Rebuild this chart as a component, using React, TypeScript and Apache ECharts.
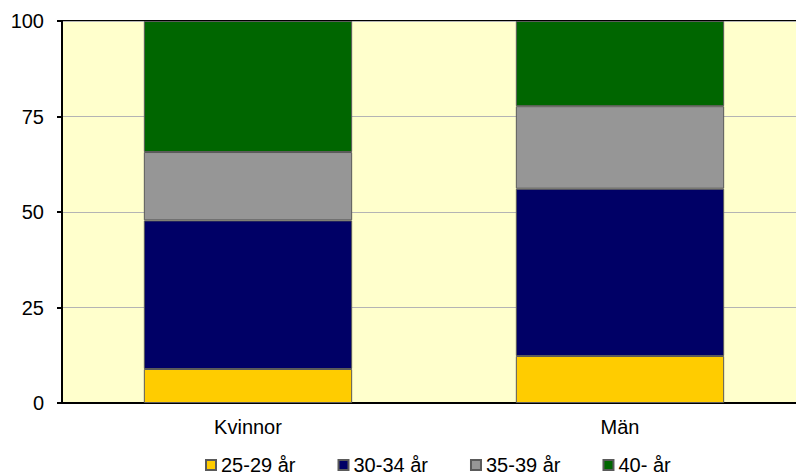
import React, { useEffect, useRef } from "react";
import * as echarts from "echarts";

const categories = ["Kvinnor", "Män"];
const seriesNames = ["25-29 år", "30-34 år", "35-39 år", "40- år"];
const s2529 = [8.9, 12.3];
const s3034 = [38.9, 43.8];
const s3539 = [17.9, 21.6];
const s40 = [34.3, 22.3];
const yTicks = [0, 25, 50, 75, 100];
const colors = ["#FFCC00", "#000066", "#969696", "#006600"];

export default function App() {
  const ref = useRef<HTMLDivElement>(null);
  useEffect(() => {
    if (!ref.current) return;
    const chart = echarts.init(ref.current, undefined, { renderer: "svg" });
    const font = "'Liberation Sans', Arial, sans-serif";
    const values = [s2529, s3034, s3539, s40];
    chart.setOption({
      animation: false,
      textStyle: { fontFamily: font },
      grid: {
        left: 62,
        right: 0,
        top: 21,
        bottom: 70,
        show: true,
        backgroundColor: "#FFFFCC",
        borderColor: "#000",
        borderWidth: 2,
      },
      legend: {
        left: 205,
        top: 455,
        padding: 0,
        itemWidth: 10,
        itemHeight: 10,
        itemGap: 42,
        icon: "rect",
        data: seriesNames,
        textStyle: { fontSize: 20, lineHeight: 16, color: "#000", fontFamily: font },
      },
      xAxis: {
        type: "category",
        data: categories,
        axisLine: { lineStyle: { color: "#000", width: 2 } },
        axisTick: { show: false },
        axisLabel: { color: "#000", fontSize: 20, margin: 14, fontFamily: font },
      },
      yAxis: {
        type: "value",
        min: yTicks[0],
        max: yTicks[yTicks.length - 1],
        interval: 25,
        axisLine: { show: true, lineStyle: { color: "#000", width: 2 } },
        axisTick: { show: true, length: 5, lineStyle: { color: "#000", width: 2 } },
        axisLabel: { color: "#000", fontSize: 20, margin: 18, fontFamily: font },
        splitLine: { lineStyle: { color: "#B4B4B4", width: 1 } },
      },
      series: seriesNames.map((name, i) => ({
        name,
        type: "bar",
        stack: "total",
        data: values[i],
        barCategoryGap: "44%",
        itemStyle: { color: colors[i], borderColor: "#5a5a5a", borderWidth: 1 },
      })),
    });
    return () => chart.dispose();
  }, []);
  return (
    <div
      style={{ position: "fixed", left: 0, top: 0, width: 796, height: 473, overflow: "hidden", background: "#fff" }}
    >
      <div ref={ref} style={{ width: 806, height: 473 }} />
    </div>
  );
}
